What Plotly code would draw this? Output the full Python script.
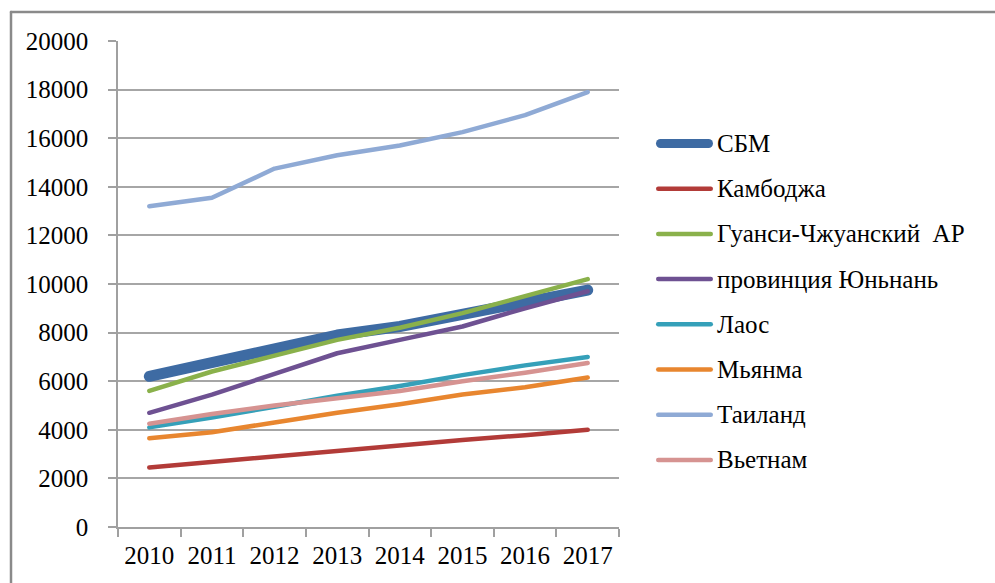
import plotly.graph_objects as go

years = ["2010", "2011", "2012", "2013", "2014", "2015", "2016", "2017"]
names = ["СБМ", "Камбоджа", "Гуанси-Чжуанский  АР", "провинция Юньнань",
         "Лаос", "Мьянма", "Таиланд", "Вьетнам"]
sbm = [6200, 6800, 7400, 7900, 8250, 8700, 9250, 9750]
cambodia = [2450, 2680, 2920, 3150, 3380, 3580, 3780, 4000]
guangxi = [5600, 6400, 7050, 7700, 8200, 8800, 9500, 10200]
yunnan = [4700, 5450, 6300, 7150, 7700, 8250, 9000, 9700]
laos = [4100, 4500, 4950, 5400, 5800, 6250, 6650, 7000]
myanmar = [3650, 3900, 4300, 4700, 5050, 5450, 5750, 6150]
thailand = [13200, 13550, 14750, 15300, 15700, 16250, 16950, 17900]
vietnam = [4250, 4650, 5000, 5300, 5600, 6000, 6350, 6750]
y_ticks = [0, 2000, 4000, 6000, 8000, 10000, 12000, 14000, 16000, 18000, 20000]

series = [sbm, cambodia, guangxi, yunnan, laos, myanmar, thailand, vietnam]
colors = ["#3E6BA3", "#B23B38", "#8AB14B", "#6E5192", "#35A0B9", "#E8862F", "#8FAAD5", "#D69391"]
widths = [11, 4.5, 4.5, 4.5, 4.5, 4.5, 4.5, 4.5]

W, H = 995, 583
L, R, T, B = 118, 619, 41, 527
pw, ph = R - L, B - T

def xp(px):
    return (px - L) / pw

def yp(py):
    return (B - py) / ph

fig = go.Figure()
for nm, vals, c, w in zip(names, series, colors, widths):
    fig.add_trace(go.Scatter(x=years, y=vals, name=nm, mode="lines",
                             line=dict(color=c, width=w), showlegend=False))

font = dict(family="Liberation Serif", size=25, color="#000000")

shapes = []
annotations = []
# outer chart border (left and top edges visible)
shapes.append(dict(type="line", xref="paper", yref="paper", x0=xp(11), x1=xp(11), y0=yp(12), y1=yp(590),
                   line=dict(color="#8A8A8A", width=2.5)))
shapes.append(dict(type="line", xref="paper", yref="paper", x0=xp(11), x1=xp(1000), y0=yp(12), y1=yp(12),
                   line=dict(color="#8A8A8A", width=2.5)))

# manual legend
leg_y0, leg_dy = 143.5, 45.2
for i, (nm, c, w) in enumerate(zip(names, colors, widths)):
    py = leg_y0 + i * leg_dy
    lw = 9 if w > 5 else 4.5
    shapes.append(dict(type="line", xref="paper", yref="paper", x0=xp(656 + lw / 2), x1=xp(713 - lw / 2),
                       y0=yp(py), y1=yp(py), line=dict(color=c, width=lw)))
    annotations.append(dict(xref="paper", yref="paper", x=xp(715), y=yp(py), text=nm,
                            showarrow=False, xanchor="left", yanchor="middle", font=font))

fig.update_layout(
    width=W, height=H,
    margin=dict(l=L, r=W - R, t=T, b=H - B),
    paper_bgcolor="white", plot_bgcolor="white",
    shapes=shapes, annotations=annotations,
    showlegend=False,
    font=font,
)
fig.update_xaxes(type="category", range=[-0.5, 7.5], tickson="boundaries",
                 ticks="outside", ticklen=8, tickcolor="#A0A0A0", tickwidth=1.5,
                 showline=True, linecolor="#A0A0A0", linewidth=1.5, showgrid=False,
                 tickfont=font, ticklabelstandoff=5, zeroline=False, automargin=False)
fig.update_yaxes(range=[0, 20000], tickvals=y_ticks, tickformat="d", ticks="outside", ticklen=8,
                 tickcolor="#A0A0A0", tickwidth=1.5, showline=True, linecolor="#A0A0A0",
                 linewidth=1.5, showgrid=True, gridcolor="#A6A6A6", gridwidth=1.5,
                 zeroline=False, tickfont=font, ticklabelstandoff=15, automargin=False)

post = """
document.body.style.margin='0';
document.body.style.overflow='hidden';
function roundCaps(){
  document.querySelectorAll('.scatterlayer .js-line, .shapelayer path').forEach(function(p){
    p.style.strokeLinecap='round'; p.style.strokeLinejoin='round';
  });
}
roundCaps();
var gd = document.getElementById('{plot_id}');
if (gd && gd.on) { gd.on('plotly_afterplot', roundCaps); }
"""
fig.write_html("out.html", config={"displayModeBar": False}, post_script=post)
